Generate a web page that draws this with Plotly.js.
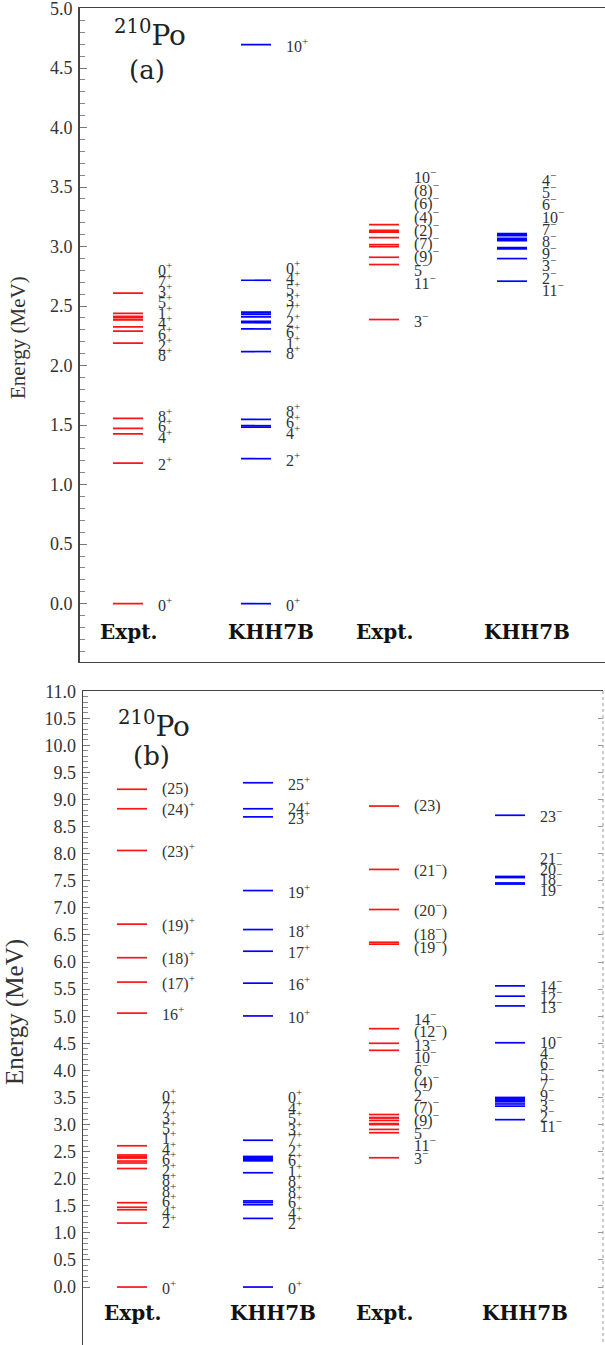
<!DOCTYPE html>
<html><head><meta charset="utf-8">
<script src="https://cdn.plot.ly/plotly-3.0.1.min.js"></script>
<style>html,body{margin:0;padding:0;overflow:hidden;background:#fff}#plot{width:660px;height:1400px}</style>
</head><body><div id="plot"></div>
<script>
// ---------------- DATA (energies in MeV, ascending) ----------------
// Panel (a)
const aExptPosE = [0.000, 1.181, 1.427, 1.473, 1.557, 2.188, 2.290, 2.326, 2.383, 2.387, 2.402, 2.414, 2.438, 2.608];
const aExptPosJ = ["0+", "2+", "4+", "6+", "8+", "8+", "2+", "6+", "4+", "1+", "5+", "3+", "7+", "0+"];
const aKhhPosE  = [0.000, 1.218, 1.483, 1.495, 1.548, 2.118, 2.308, 2.360, 2.372, 2.409, 2.430, 2.443, 2.450, 2.717, 4.697];
const aKhhPosJ  = ["0+", "2+", "4+", "6+", "8+", "8+", "1+", "6+", "2+", "7+", "3+", "5+", "4+", "0+", "10+"];
const aExptNegE = [2.387, 2.849, 2.910, 3.000, 3.017, 3.075, 3.120, 3.127, 3.137, 3.185];
const aExptNegJ = ["3−", "11−", "5−", "(9)−", "(7)−", "(2)−", "(4)−", "(6)−", "(8)−", "10−"];
const aKhhNegE  = [2.709, 2.899, 2.980, 2.992, 3.050, 3.062, 3.068, 3.092, 3.100, 3.108];
const aKhhNegJ  = ["11−", "2−", "3−", "9−", "8−", "7−", "10−", "6−", "5−", "4−"];
// Panel (b)
const bExptPosE = [0.000, 1.181, 1.427, 1.473, 1.557, 2.188, 2.290, 2.326, 2.383, 2.387, 2.402, 2.414, 2.438, 2.608, 5.057, 5.630, 6.080, 6.700, 8.060, 8.830, 9.190];
const bExptPosJ = ["0+", "2+", "4+", "6+", "8+", "8+", "2+", "6+", "4+", "1+", "5+", "3+", "7+", "0+", "16+", "(17)+", "(18)+", "(19)+", "(23)+", "(24)+", "(25)"];
const bKhhPosE  = [0.000, 1.267, 1.520, 1.560, 1.590, 2.110, 2.330, 2.360, 2.380, 2.390, 2.400, 2.405, 2.410, 2.710, 5.005, 5.610, 6.200, 6.600, 7.320, 8.680, 8.830, 9.310];
const bKhhPosJ  = ["0+", "2+", "4+", "6+", "8+", "8+", "1+", "6+", "2+", "7+", "3+", "5+", "4+", "0+", "10+", "16+", "17+", "18+", "19+", "23+", "24+", "25+"];
const bExptNegE = [2.387, 2.849, 2.910, 3.000, 3.017, 3.075, 3.120, 3.130, 3.185, 4.370, 4.500, 4.770, 6.330, 6.365, 6.970, 7.710, 8.880];
const bExptNegJ = ["3−", "11−", "5−", "(9)−", "(7)−", "2−", "(4)−", "6−", "10−", "13−", "(12−)", "14−", "(19−)", "(18−)", "(20−)", "(21−)", "(23)"];
const bKhhNegE  = [3.090, 3.340, 3.380, 3.420, 3.450, 3.470, 3.490, 3.500, 4.510, 5.190, 5.370, 5.560, 7.440, 7.460, 7.560, 7.580, 8.710];
const bKhhNegJ  = ["11−", "2−", "3−", "9−", "7−", "5−", "6−", "4−", "10−", "13−", "12−", "14−", "19−", "18−", "20−", "21−", "23−"];

const columnNames = ["Expt.", "KHH7B", "Expt.", "KHH7B"];
const columnColors = ["#ff1414", "#0000ff", "#ff1414", "#0000ff"];
const yTitle = "Energy (MeV)";
const panelTags = ["(a)", "(b)"];
const nucleus = "<sup>210</sup>Po";

// ---------------- LAYOUT CONSTANTS ----------------
const W = 660, H = 1400;
const SERIF = "Liberation Serif";
const panels = [
  { cols: [[aExptPosE, aExptPosJ], [aKhhPosE, aKhhPosJ], [aExptNegE, aExptNegJ], [aKhhNegE, aKhhNegJ]],
    xa: "x", ya: "y", left: 79.5, right: 660, top: 8, bottom: 662, c1: 128, unit: 128,
    yr: [-0.49, 5.004], ymax: 5.0, spacingPx: [10.7, 10.7, 13.2, 12.2], alpha: 0.4, colLabelPx: 632,
    titlePx: [18, 338], titleSize: 21, nucPx: [112, 34], tagPx: [147, 70] },
  { cols: [[bExptPosE, bExptPosJ], [bKhhPosE, bKhhPosJ], [bExptNegE, bExptNegJ], [bKhhNegE, bKhhNegJ]],
    xa: "x2", ya: "y2", left: 83, right: 603, top: 691, bottom: 1360, c1: 132, unit: 126,
    yr: [-1.347, 11.004], ymax: 11.0, spacingPx: [10.5, 10.5, 12.6, 10.5], alpha: 0.6, colLabelPx: 1313,
    titlePx: [15, 1012], titleSize: 25, nucPx: [116, 724], tagPx: [151, 756] }
];
const HALF_PX = 15;         // half length of a level line in px
const LABEL_GAP_PX = 28;    // distance of label from column centre

function fmt(j) { return j.replace(/([+−])/g, "<sup>$1</sup>"); }

// spread overlapping labels into clusters of uniform spacing d
function placeLabels(E, d, alpha) {
  const cl = E.map((e, i) => ({ s: i, n: 1, c: e }));
  const centre = (k) => {
    let mx = -Infinity, sum = 0;
    for (let m = 0; m < k.n; m++) { const v = E[k.s + m] - m * d; mx = Math.max(mx, v); sum += v; }
    k.c = alpha * mx + (1 - alpha) * sum / k.n;
  };
  let changed = true;
  while (changed) {
    changed = false;
    for (let i = 0; i < cl.length - 1; i++) {
      const a = cl[i], b = cl[i + 1];
      if (a.c + a.n * d > b.c + 1e-9) { a.n += b.n; cl.splice(i + 1, 1); centre(a); changed = true; break; }
    }
  }
  const out = [];
  cl.forEach(k => { for (let m = 0; m < k.n; m++) out.push(k.c + m * d); });
  return out;
}

const traces = [], annotations = [], shapes = [];
const layout = {
  width: W, height: H, autosize: false, showlegend: false,
  margin: { l: 0, r: 0, t: 0, b: 0 },
  paper_bgcolor: "#fff", plot_bgcolor: "rgba(0,0,0,0)",
  font: { family: SERIF, color: "#333" }
};

function steps(max, step) { const a = []; const n = Math.round(max / step); for (let i = 0; i <= n; i++) a.push(+(i * step).toFixed(2)); return a; }

panels.forEach((p, pi) => {
  const pxPerUnit = p.unit;
  const xr = [1 - (p.c1 - p.left) / pxPerUnit, 1 + (p.right - p.c1) / pxPerUnit];
  const pxPerMeV = (p.bottom - p.top) / (p.yr[1] - p.yr[0]);
  const xKey = pi === 0 ? "xaxis" : "xaxis2", yKey = pi === 0 ? "yaxis" : "yaxis2";
  layout[xKey] = {
    domain: [p.left / W, p.right / W], range: xr, anchor: p.ya,
    showline: true, linecolor: "#444", linewidth: 1.3, mirror: pi === 0,
    side: pi === 0 ? "bottom" : "top",
    showticklabels: false, ticks: "", showgrid: false, zeroline: false, fixedrange: true
  };
  const minorVals = steps(p.ymax, 0.1);
  if (pi === 0) { for (let v = 1; v <= 4; v++) minorVals.unshift(-v / 10); }
  layout[yKey] = {
    domain: [1 - p.bottom / H, 1 - p.top / H], range: p.yr, anchor: p.xa,
    showline: true, linecolor: "#444", linewidth: 1.3,
    tickmode: "array", tickvals: steps(p.ymax, 0.5),
    ticks: "inside", ticklen: 7, tickwidth: 1, tickcolor: "#777",
    minor: { tickmode: "array", tickvals: minorVals, ticks: "inside", ticklen: 5, tickcolor: "#888" },
    tickfont: { family: SERIF, size: 18, color: "#333" }, tickformat: ".1f",
    ticklabeloverflow: "allow",
    showgrid: false, zeroline: false, fixedrange: true, ticklabelstandoff: 2
  };

  const half = HALF_PX / pxPerUnit, gap = LABEL_GAP_PX / pxPerUnit;
  p.cols.forEach(([E, J], ci) => {
    const c = ci + 1;
    const xs = [], ys = [];
    E.forEach(e => { xs.push(c - half, c + half, null); ys.push(e, e, null); });
    traces.push({ type: "scatter", mode: "lines", x: xs, y: ys, xaxis: p.xa, yaxis: p.ya,
      line: { color: columnColors[ci], width: 1.7 }, hoverinfo: "skip" });
    const ly = placeLabels(E, p.spacingPx[ci] / pxPerMeV, p.alpha);
    J.forEach((j, k) => annotations.push({
      xref: p.xa, yref: p.ya, x: c + gap, y: ly[k], xanchor: "left", yanchor: "middle",
      text: fmt(j), showarrow: false,
      font: { family: SERIF, size: 16, color: "#333" }
    }));
    annotations.push({
      xref: p.xa, yref: "paper", x: c - 2 * half, y: 1 - p.colLabelPx / H,
      xanchor: "left", yanchor: "middle", text: "<b>" + columnNames[ci] + "</b>", showarrow: false,
      font: { family: "DejaVu Serif", size: 20, color: "#111" }
    });
  });
  annotations.push({ xref: "paper", yref: "paper", x: p.titlePx[0] / W, y: 1 - p.titlePx[1] / H,
    xanchor: "center", yanchor: "middle", textangle: -90, text: yTitle, showarrow: false,
    font: { family: SERIF, size: p.titleSize, color: "#333" } });
  annotations.push({ xref: "paper", yref: "paper", x: p.nucPx[0] / W, y: 1 - p.nucPx[1] / H,
    xanchor: "left", yanchor: "middle", text: nucleus, showarrow: false,
    font: { family: "DejaVu Serif", size: 28, color: "#222" } });
  annotations.push({ xref: "paper", yref: "paper", x: p.tagPx[0] / W, y: 1 - p.tagPx[1] / H,
    xanchor: "center", yanchor: "middle", text: panelTags[pi], showarrow: false,
    font: { family: "DejaVu Serif", size: 26, color: "#222" } });
});

// right dotted frame of panel (b) with its ticks
shapes.push({ type: "line", xref: "x2 domain", yref: "y2 domain", x0: 1, x1: 1, y0: 0, y1: 1,
  line: { color: "#999", width: 1, dash: "dot" } });
layout.yaxis3 = {
  overlaying: "y2", side: "right", anchor: "x2", range: layout.yaxis2.range,
  tickmode: "array", tickvals: steps(11, 0.5), ticks: "inside", ticklen: 5, tickcolor: "#999",
  showticklabels: false, showline: false, showgrid: false, zeroline: false, fixedrange: true
};
traces.push({ type: "scatter", mode: "lines", x: [null], y: [null], xaxis: "x2", yaxis: "y3", hoverinfo: "skip" });

layout.annotations = annotations;
layout.shapes = shapes;
Plotly.newPlot("plot", traces, layout, { staticPlot: true, displayModeBar: false });
</script>
</body></html>
